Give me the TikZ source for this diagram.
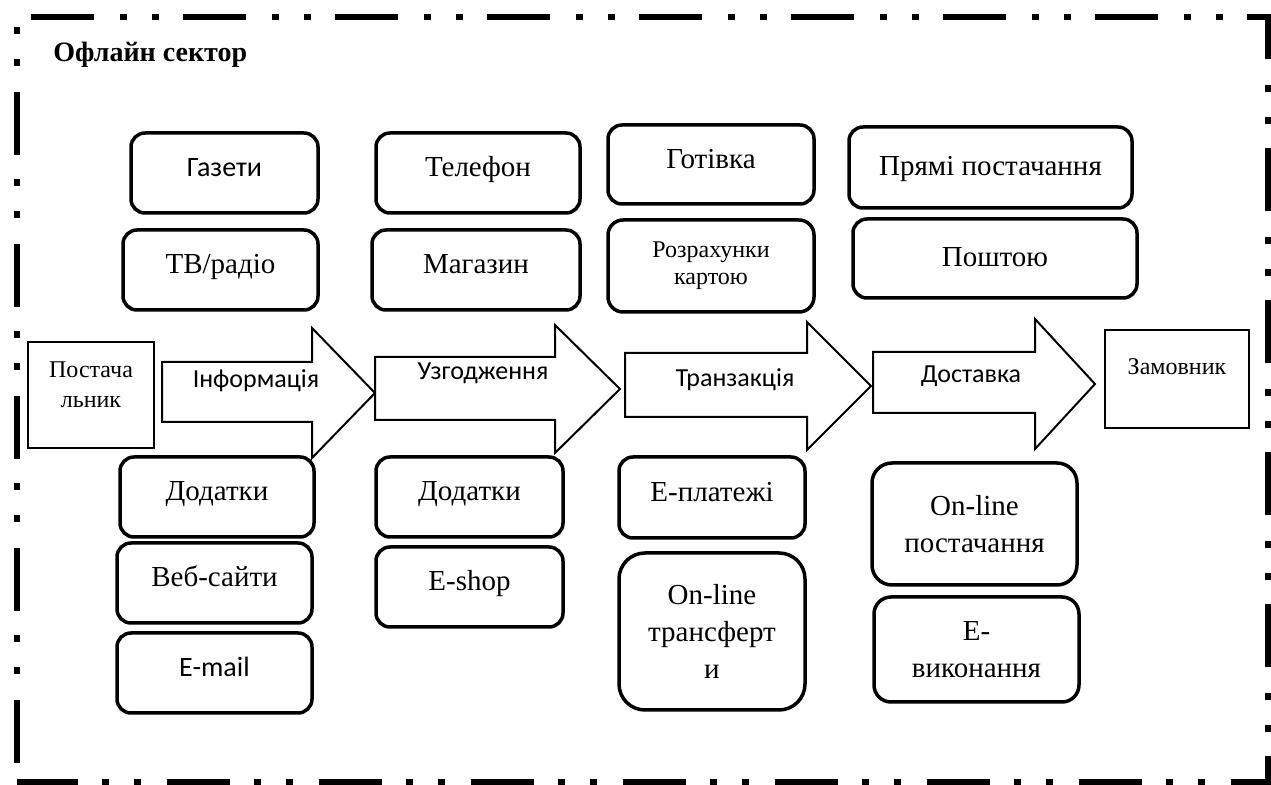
\documentclass[tikz,border=0pt]{standalone}
\usepackage{fontspec}
\setmainfont{Liberation Serif}
\newfontfamily\calfont{Carlito}

\begin{document}
\begin{tikzpicture}[x=0.5pt, y=-0.5pt,
    % Define the styles for the boxes
    rbox/.style={draw, line width=1.75pt, rounded corners=7pt, inner sep=2pt, align=center,
        font=\fontsize{14.5}{18.5}\selectfont},
    sbox/.style={draw, line width=1pt, inner sep=2pt, align=center,
        font=\fontsize{12}{15}\selectfont},
    dims/.style 2 args={minimum width=#1pt, minimum height=#2pt},
    shifted/.style={text height=11pt, text depth=7pt},
    centred/.style={text height=11pt, text depth=2.5pt},
    sans/.style={font=\calfont\fontsize{14}{17}\selectfont},
    % Define the styles for the block arrows and the sector frame
    blockarrow/.style={draw, fill=white, line width=1pt, line join=miter},
    atext/.style={font=\calfont\fontsize{13}{16}\selectfont, anchor=base, inner sep=0pt},
    sectorframe/.style={line width=3pt,
        dash pattern=on 31.5pt off 13pt on 3.5pt off 12.5pt on 3.5pt off 12pt, dash phase=66.5pt}
]
\useasboundingbox (0,0) rectangle (1271,785);

% Draw the frame of the sector
\draw[sectorframe] (17,782) -- (17,17) -- (1268,17) -- (1268,782) -- cycle;
\node[font=\bfseries\fontsize{14}{17}\selectfont, anchor=base west, inner sep=0pt] (title) at (53,62) {Офлайн сектор};

% Draw the block arrows with their labels
\draw[blockarrow] (162,362) -- (312,362) -- (312,328) -- (375,393) -- (312,458) -- (312,422) -- (162,422) -- cycle;
\draw[blockarrow] (375,357) -- (555,357) -- (555,325) -- (620,389) -- (555,453) -- (555,420) -- (375,420) -- cycle;
\draw[blockarrow] (625,353) -- (807,353) -- (807,322) -- (871,386) -- (807,450) -- (807,417) -- (625,417) -- cycle;
\draw[blockarrow] (873,352) -- (1035,352) -- (1035,319) -- (1095,384) -- (1035,449) -- (1035,413) -- (873,413) -- cycle;
\node[atext] (info) at (256,388) {Інформація};
\node[atext] (uzgod) at (483,380) {Узгодження};
\node[atext] (tranz) at (735,387) {Транзакція};
\node[atext] (dostav) at (971,383) {Доставка};

% Add the supplier and the customer
\node[sbox, dims={63}{53}, text height=24pt, text depth=11pt] (postach) at (91,395) {Постача\\льник};
\node[sbox, dims={72}{49}, text height=10pt, text depth=14pt] (zamovnyk) at (1177,379) {Замовник};

% Add the offline boxes above the arrows
\node[rbox, sans, shifted, dims={93.5}{40}] (gazety) at (224.5,173) {Газети};
\node[rbox, shifted, dims={97.5}{40}] (tvradio) at (220.5,270) {ТВ/радіо};
\node[rbox, shifted, dims={102}{40}] (telefon) at (478,173) {Телефон};
\node[rbox, shifted, dims={104}{40}] (magazyn) at (476,270) {Магазин};
\node[rbox, shifted, dims={103}{39.5}] (gotivka) at (711,164.5) {Готівка};
\node[rbox, dims={103}{46}, rounded corners=7.5pt, font=\fontsize{12}{13.5}\selectfont] (kartoyu) at (711,266) {Розрахунки\\картою};
\node[rbox, centred, dims={141.5}{40.5}] (priami) at (990.5,167.5) {Прямі постачання};
\node[rbox, centred, dims={142}{39.5}] (poshtoyu) at (995,258.5) {Поштою};

% Add the online boxes below the arrows
\node[rbox, shifted, dims={97}{40}] (dodatky1) at (217,497) {Додатки};
\node[rbox, shifted, dims={97.5}{40}] (vebsaity) at (214.5,583) {Веб-сайти};
\node[rbox, sans, shifted, dims={97.5}{40}] (email) at (214.5,673) {E-mail};
\node[rbox, shifted, dims={93.5}{40}] (dodatky2) at (469.5,497) {Додатки};
\node[rbox, shifted, dims={93.5}{40}] (eshop) at (469.5,587) {E-shop};
\node[rbox, shifted, dims={93}{40.5}] (eplatezhi) at (712,497.5) {E-платежі};
\node[rbox, dims={93}{78.5}, rounded corners=13pt] (transfer) at (712,631.5) {On-line\\трансферт\\и};
\node[rbox, dims={102.5}{61}, rounded corners=10pt] (onlinepost) at (974.5,524) {On-line\\постачання};
\node[rbox, dims={102.5}{52.5}, rounded corners=8.5pt] (evykon) at (976.5,649.5) {E-\\виконання};

\end{tikzpicture}
\end{document}
